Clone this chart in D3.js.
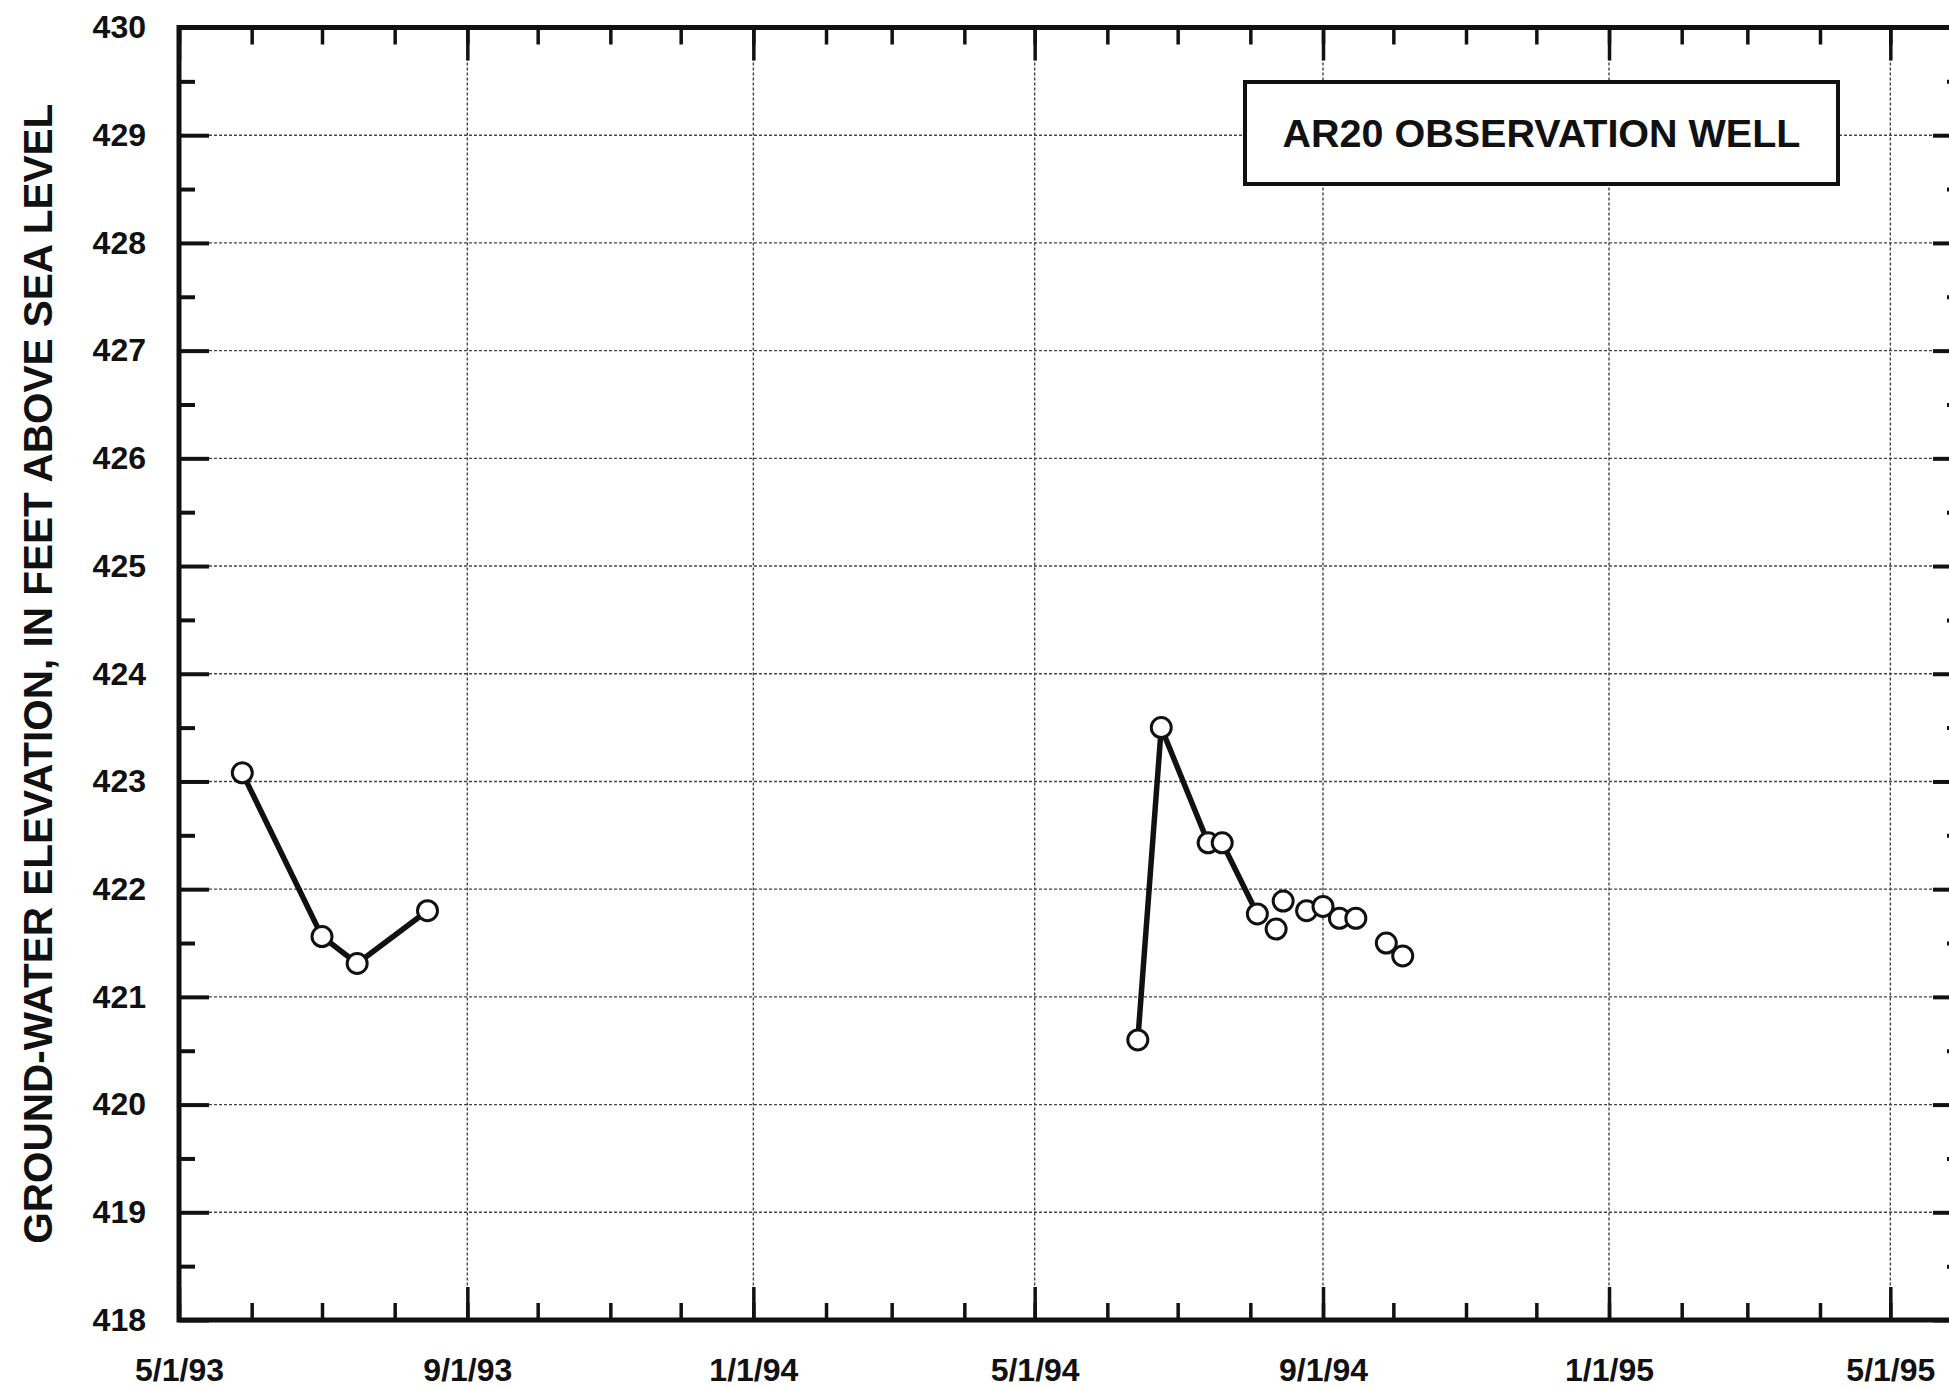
<!DOCTYPE html>
<html>
<head>
<meta charset="utf-8">
<script src="https://cdn.jsdelivr.net/npm/d3@7"></script>
<style>
  html, body { margin: 0; padding: 0; background: #fff; }
  svg { display: block; }
  text { font-family: "Liberation Sans", Arial, sans-serif; font-weight: bold; fill: #111; }
</style>
</head>
<body>
<svg id="chart" width="1949" height="1389"></svg>
<script>
// ---- data ----
const chartTitle = "AR20 OBSERVATION WELL";
const yAxisTitle = "GROUND-WATER ELEVATION, IN FEET ABOVE SEA LEVEL";

// 1993 record (connected)
const dates1993 = ["1993-05-28", "1993-07-01", "1993-07-16", "1993-08-15"];
const levels1993 = [423.08, 421.56, 421.31, 421.80];

// 1994 record, connected portion
const dates1994Line = ["1994-06-14", "1994-06-24", "1994-07-14", "1994-07-20", "1994-08-04"];
const levels1994Line = [420.60, 423.50, 422.43, 422.43, 421.77];

// 1994 record, points without connecting line
const dates1994Pts = ["1994-08-12", "1994-08-15", "1994-08-25", "1994-09-01", "1994-09-08", "1994-09-15", "1994-09-28", "1994-10-05"];
const levels1994Pts = [421.63, 421.89, 421.80, 421.84, 421.73, 421.73, 421.50, 421.38];

const xDomain = ["1993-05-01", "1995-06-01"];
const xMajorTicks = ["1993-05-01", "1993-09-01", "1994-01-01", "1994-05-01", "1994-09-01", "1995-01-01", "1995-05-01"];
const yDomain = [418, 430];
const yMajorTicks = [418, 419, 420, 421, 422, 423, 424, 425, 426, 427, 428, 429, 430];

// ---- layout ----
const parse = d3.utcParse("%Y-%m-%d");
const fmt = d3.utcFormat("%-m/%-d/%y");
const L = 179, R = 1963, T = 27.5, B = 1320;

const svg = d3.select("#chart");
const x = d3.scaleUtc().domain(xDomain.map(parse)).range([L, R]);
const y = d3.scaleLinear().domain(yDomain).range([B, T]);

const majorDates = xMajorTicks.map(parse);
const minorDates = d3.utcMonth.range(parse(xDomain[0]), d3.utcDay.offset(parse(xDomain[1]), 1));
const minorY = d3.range(yDomain[0] + 0.5, yDomain[1], 1);

// grid
const grid = svg.append("g").attr("stroke", "#444").attr("stroke-width", 1.4).attr("stroke-dasharray", "3,2").attr("fill", "none");
grid.selectAll("line.v").data(majorDates.slice(1)).join("line")
  .attr("x1", d => x(d)).attr("x2", d => x(d)).attr("y1", T).attr("y2", B);
grid.selectAll("line.h").data(yMajorTicks.slice(1, -1)).join("line")
  .attr("x1", L).attr("x2", R).attr("y1", d => y(d)).attr("y2", d => y(d));

function styleAxis(g, tickW) {
  g.select(".domain").remove();
  g.selectAll(".tick line").attr("stroke", "#111").attr("stroke-width", tickW);
}
const fontSize = 32;

// bottom axis
svg.append("g").attr("transform", `translate(0,${B})`)
  .call(d3.axisBottom(x).tickValues(minorDates).tickSize(-17).tickFormat(""))
  .call(g => styleAxis(g, 3.5));
svg.append("g").attr("transform", `translate(0,${B})`)
  .call(d3.axisBottom(x).tickValues(majorDates).tickSize(-33).tickPadding(38).tickFormat(fmt))
  .call(g => styleAxis(g, 3.5))
  .call(g => g.selectAll("text").attr("font-size", fontSize).attr("font-family", "Liberation Sans, Arial, sans-serif").attr("font-weight", "bold").attr("fill", "#111"));

// top axis
svg.append("g").attr("transform", `translate(0,${T})`)
  .call(d3.axisTop(x).tickValues(minorDates).tickSize(-17).tickFormat(""))
  .call(g => styleAxis(g, 3.5));
svg.append("g").attr("transform", `translate(0,${T})`)
  .call(d3.axisTop(x).tickValues(majorDates).tickSize(-33).tickFormat(""))
  .call(g => styleAxis(g, 3.5));

// left axis
svg.append("g").attr("transform", `translate(${L},0)`)
  .call(d3.axisLeft(y).tickValues(minorY).tickSize(-16).tickFormat(""))
  .call(g => styleAxis(g, 4));
svg.append("g").attr("transform", `translate(${L},0)`)
  .call(d3.axisLeft(y).tickValues(yMajorTicks).tickSize(-30).tickPadding(33).tickFormat(d3.format("d")))
  .call(g => styleAxis(g, 4))
  .call(g => g.selectAll("text").attr("font-size", fontSize).attr("font-family", "Liberation Sans, Arial, sans-serif").attr("font-weight", "bold").attr("fill", "#111"));

// right axis
svg.append("g").attr("transform", `translate(${R},0)`)
  .call(d3.axisRight(y).tickValues(minorY).tickSize(-16).tickFormat(""))
  .call(g => styleAxis(g, 4));
svg.append("g").attr("transform", `translate(${R},0)`)
  .call(d3.axisRight(y).tickValues(yMajorTicks).tickSize(-30).tickFormat(""))
  .call(g => styleAxis(g, 4));

// frame
svg.append("rect").attr("x", L).attr("y", T).attr("width", R - L).attr("height", B - T)
  .attr("fill", "none").attr("stroke", "#111").attr("stroke-width", 5);

// title box
const bx = 1245, by = 82, bw = 593, bh = 102;
svg.append("rect").attr("x", bx).attr("y", by).attr("width", bw).attr("height", bh)
  .attr("fill", "#fff").attr("stroke", "#111").attr("stroke-width", 4);
svg.append("text").attr("x", bx + bw / 2).attr("y", by + bh / 2 + 14)
  .attr("text-anchor", "middle").attr("font-size", 39.5).text(chartTitle);

// y title
svg.append("text").attr("transform", `translate(52,${(T + B) / 2}) rotate(-90)`)
  .attr("text-anchor", "middle").attr("font-size", 40.5).text(yAxisTitle);

// data
const line = d3.line().x(d => x(d[0])).y(d => y(d[1]));
const s1 = dates1993.map((d, i) => [parse(d), levels1993[i]]);
const s2 = dates1994Line.map((d, i) => [parse(d), levels1994Line[i]]);
const s3 = dates1994Pts.map((d, i) => [parse(d), levels1994Pts[i]]);

[s1, s2].forEach(s => {
  svg.append("path").datum(s).attr("d", line)
    .attr("fill", "none").attr("stroke", "#111").attr("stroke-width", 5.5);
});
svg.append("g").selectAll("circle").data([...s1, ...s2, ...s3]).join("circle")
  .attr("cx", d => x(d[0])).attr("cy", d => y(d[1])).attr("r", 10)
  .attr("fill", "#fff").attr("stroke", "#111").attr("stroke-width", 3);
</script>
</body>
</html>
